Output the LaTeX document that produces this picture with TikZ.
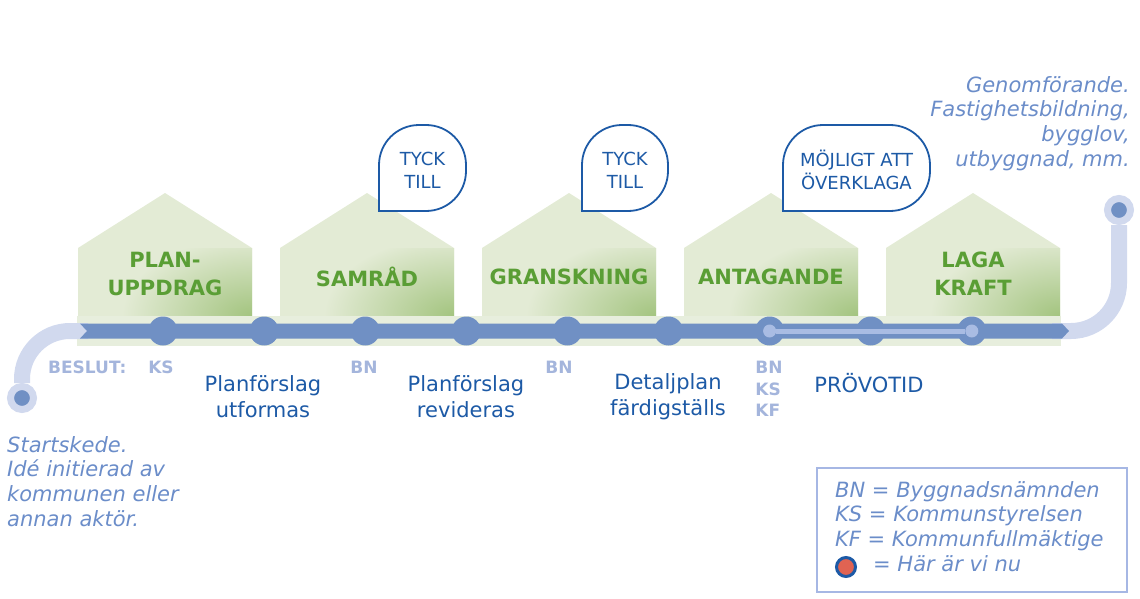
\documentclass[tikz,border=0pt]{standalone}
\usepackage{fontspec}
\setmainfont{DejaVu Sans}
\usepackage{xcolor}
\usetikzlibrary{arrows.meta,positioning,shapes.geometric}
\definecolor{barblue}{HTML}{7090C4}
\definecolor{trackblue}{HTML}{D1D9EE}
\definecolor{innerblue}{HTML}{A9BCE3}
\definecolor{darkblue}{HTML}{1D5AA6}
\definecolor{paleblue}{HTML}{A4B5DC}
\definecolor{softblue}{HTML}{6B8DC9}
\definecolor{legendblue}{HTML}{A6B7E4}
\definecolor{phasegreen}{HTML}{5A9E35}
\definecolor{houselight}{HTML}{E3EBD5}
\definecolor{housedark}{HTML}{A3C47F}
\definecolor{bandgreen}{HTML}{E7EEDD}
\definecolor{herered}{HTML}{E06352}

\begin{document}
\begin{tikzpicture}[
  x=1pt, y=-1pt,
  phase/.style={align=center, text=phasegreen, font=\fontsize{21}{28}\selectfont\bfseries},
  stop/.style={circle, fill=barblue, minimum size=29pt, inner sep=0pt},
  tick/.style={circle, fill=innerblue, minimum size=13pt, inner sep=0pt},
  ring/.style={circle, fill=barblue, draw=trackblue, line width=7pt, minimum size=23pt, inner sep=0pt},
  track/.style={trackblue, line width=16pt, rounded corners=48pt},
  bubble/.style={draw=darkblue, fill=white, line width=1.8pt, rounded corners=40pt, line cap=rect},
  bubbletext/.style={align=center, text=darkblue, font=\fontsize{18}{23}\selectfont},
  work/.style={align=center, text=darkblue, font=\fontsize{21}{26}\selectfont},
  body/.style={align=left, text=paleblue, font=\fontsize{17}{21.5}\selectfont\bfseries},
  note/.style={text=softblue, font=\fontsize{21}{24.7}\selectfont\itshape, inner sep=0pt}
]
\useasboundingbox (0,0) rectangle (1140,599);

% houses
\foreach \x/\name/\lbl/\ly in {78/plan/{PLAN-\\UPPDRAG}/274, 280/samrad/SAMRÅD/277, 482/gransk/GRANSKNING/277, 684/antag/ANTAGANDE/277, 886/laga/{LAGA\\KRAFT}/274} {
  \fill[houselight] (\x,316) -- (\x,248) -- (\x+87,193) -- (\x+174,248) -- (\x+174,316) -- cycle;
  \begin{scope}
    \clip (\x,248) rectangle (\x+174,316);
    \shade[inner color=housedark, outer color=houselight] (\x+174,316) ellipse (130 and 80);
  \end{scope}
  \node[phase] (\name) at (\x+87,\ly) {\lbl};
}
\fill[bandgreen] (77,316) rectangle (1061,346);

% timeline
\node[ring] (start) at (22,398) {};
\node[ring] (finish) at (1119,210) {};
\coordinate (barstart) at (80,331);
\coordinate (barend) at (1062,331);
\draw[track] (start.north) |- ([xshift=8pt]barstart);
\draw[track] ([xshift=-10pt]barend) -| (finish.south);
\fill[barblue] ([yshift=7.5pt]barstart) -- ([yshift=7.5pt]barend) -- ([xshift=7pt]barend)
  -- ([yshift=-7.5pt]barend) -- ([yshift=-7.5pt]barstart) -- ([xshift=7pt]barstart) -- cycle;
\foreach \i in {1,...,9}
  \node[stop] (s\i) at ({163+101.1*(\i-1)},331) {};
\node[tick] (t1) at (s7) {};
\node[tick] (t2) at (s9) {};
\draw[innerblue, line width=5pt] (t1) -- (t2);

% bubbles
\foreach \l/\r/\name/\txt in {379/466/tyck1/{TYCK\\TILL}, 582/668/tyck2/{TYCK\\TILL}, 783/930/overklaga/{MÖJLIGT ATT\\ÖVERKLAGA}} {
  \draw[bubble] (\l,211) -- (\l,125) -- (\r,125) -- (\r,211) -- (\l,211);
  \node[bubbletext] (\name) at ({(\l+\r)/2},170) {\txt};
}

% labels
\node[body, anchor=east] (beslut) at (130,367) {BESLUT:};
\node[body] (ks) at (161,367) {KS};
\node[body] (bn1) at (364,367) {BN};
\node[body] (bn2) at (559,367) {BN};
\node[body] (bnkskf) at (769,389) {BN\\KS\\KF};
\node[work] (utformas) at (263,397) {Planförslag\\utformas};
\node[work] (revideras) at (466,397) {Planförslag\\revideras};
\node[work] (fardig) at (668,397) {Detaljplan\\färdigställs};
\node[work] (provotid) at (869,383) {PRÖVOTID};

\node[note, anchor=north west, align=left] (startnote) at (7,436) {Startskede.\\Idé initierad av\\kommunen eller\\annan aktör.};
\node[note, anchor=north east, align=right] (endnote) at (1130,76) {Genomförande.\\Fastighetsbildning,\\bygglov,\\utbyggnad, mm.};

% legend
\node[draw=legendblue, line width=1.5pt, minimum width=310pt, minimum height=124pt, inner sep=0pt] (legend) at (972,530) {};
\node[note, anchor=north west, align=left] (legendtext) at (835,481) {BN = Byggnadsnämnden\\KS = Kommunstyrelsen\\KF = Kommunfullmäktige\\\hspace*{38pt}= Här är vi nu};
\node[circle, fill=herered, draw=darkblue, line width=3pt, minimum size=19pt, inner sep=0pt] (here) at (846,567) {};
\end{tikzpicture}
\end{document}
